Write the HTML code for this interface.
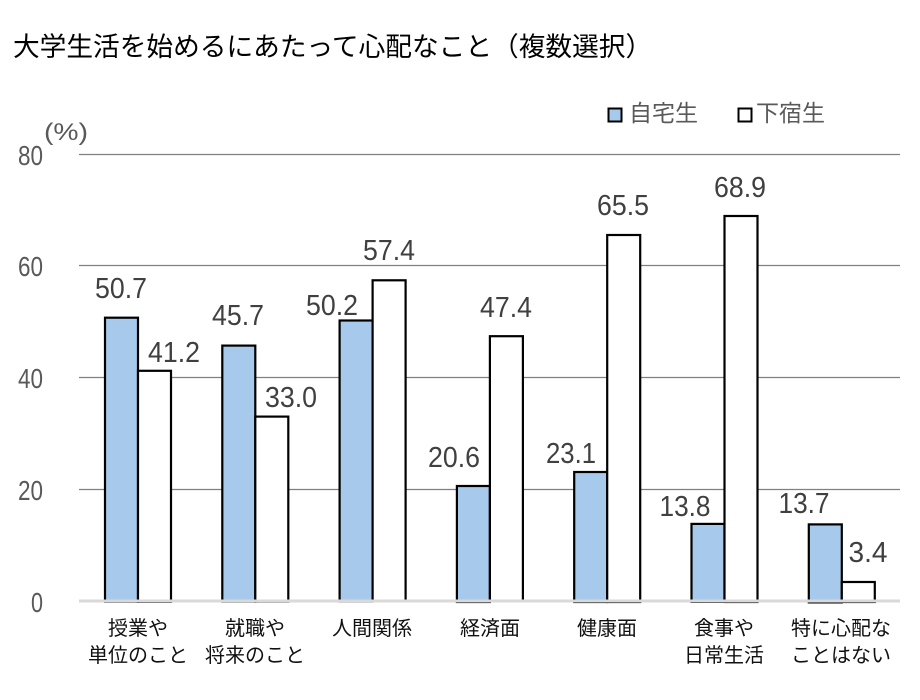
<!DOCTYPE html>
<html><head><meta charset="utf-8"><style>
html,body{margin:0;padding:0;background:#fff;}
svg{display:block;}
.t{font-family:"Liberation Sans","Noto Sans CJK JP",sans-serif;}
.cat{font-family:"Liberation Sans","Noto Sans CJK JP",sans-serif;font-size:20px;fill:#111;text-anchor:middle;}
.val{font-family:"Liberation Sans",sans-serif;font-size:29px;fill:#404040;text-anchor:middle;}
.ax{font-family:"Liberation Sans",sans-serif;font-size:28px;fill:#595959;text-anchor:end;}
</style></head><body>
<svg width="920" height="700" viewBox="0 0 920 700" xmlns="http://www.w3.org/2000/svg">
<rect width="920" height="700" fill="#fff"/>
<text class="t" x="13" y="56" font-size="26.7" fill="#000">大学生活を始めるにあたって心配なこと（複数選択）</text>

<!-- legend -->
<rect x="608.5" y="108.5" width="13" height="13" fill="#a7c9eb" stroke="#000" stroke-width="2"/>
<text class="t" x="629" y="121" font-size="23" fill="#595959">自宅生</text>
<rect x="738.5" y="108.5" width="13" height="13" fill="#fff" stroke="#000" stroke-width="2"/>
<text class="t" x="756" y="121" font-size="23" fill="#595959">下宿生</text>

<!-- y axis labels -->
<text class="t" x="44" y="140" font-size="24" fill="#595959" textLength="44" lengthAdjust="spacingAndGlyphs">(%)</text>
<text class="ax" x="43" y="165" textLength="25" lengthAdjust="spacingAndGlyphs">80</text>
<text class="ax" x="43" y="276" textLength="25" lengthAdjust="spacingAndGlyphs">60</text>
<text class="ax" x="43" y="388" textLength="25" lengthAdjust="spacingAndGlyphs">40</text>
<text class="ax" x="43" y="500" textLength="25" lengthAdjust="spacingAndGlyphs">20</text>
<text class="ax" x="43" y="612" textLength="12" lengthAdjust="spacingAndGlyphs">0</text>

<!-- gridlines -->
<g stroke="#808080" stroke-width="1.2">
<line x1="79" y1="154.5" x2="900" y2="154.5"/>
<line x1="79" y1="265.5" x2="900" y2="265.5"/>
<line x1="79" y1="377.5" x2="900" y2="377.5"/>
<line x1="79" y1="489.5" x2="900" y2="489.5"/>
</g>

<!-- bars -->
<g stroke="#000" stroke-width="2.2">
<rect x="105" y="317.7" width="33" height="284" fill="#a7c9eb"/>
<rect x="138" y="370.8" width="33" height="231" fill="#fff"/>
<rect x="222.3" y="345.6" width="33" height="256" fill="#a7c9eb"/>
<rect x="255.3" y="416.6" width="33" height="185" fill="#fff"/>
<rect x="339.6" y="320.5" width="33" height="281" fill="#a7c9eb"/>
<rect x="372.6" y="280.3" width="33" height="321" fill="#fff"/>
<rect x="456.9" y="486.0" width="33" height="116" fill="#a7c9eb"/>
<rect x="489.9" y="336.2" width="33" height="265" fill="#fff"/>
<rect x="574.2" y="472.0" width="33" height="130" fill="#a7c9eb"/>
<rect x="607.2" y="235.0" width="33" height="367" fill="#fff"/>
<rect x="691.5" y="523.9" width="33" height="78" fill="#a7c9eb"/>
<rect x="724.5" y="216.0" width="33" height="386" fill="#fff"/>
<rect x="808.8" y="524.4" width="33" height="78" fill="#a7c9eb"/>
<rect x="841.8" y="582.0" width="33" height="20" fill="#fff"/>
</g>

<!-- baseline -->
<line x1="79" y1="601" x2="900" y2="601" stroke="#d9d9d9" stroke-width="3"/>

<!-- value labels -->
<text class="val" x="121" y="298" textLength="52" lengthAdjust="spacingAndGlyphs">50.7</text>
<text class="val" x="174" y="362" textLength="52" lengthAdjust="spacingAndGlyphs">41.2</text>
<text class="val" x="238" y="325" textLength="52" lengthAdjust="spacingAndGlyphs">45.7</text>
<text class="val" x="291" y="407" textLength="52" lengthAdjust="spacingAndGlyphs">33.0</text>
<text class="val" x="332" y="315" textLength="52" lengthAdjust="spacingAndGlyphs">50.2</text>
<text class="val" x="389" y="260" textLength="52" lengthAdjust="spacingAndGlyphs">57.4</text>
<text class="val" x="454" y="467" textLength="52" lengthAdjust="spacingAndGlyphs">20.6</text>
<text class="val" x="506" y="317" textLength="52" lengthAdjust="spacingAndGlyphs">47.4</text>
<text class="val" x="571" y="463" textLength="50" lengthAdjust="spacingAndGlyphs">23.1</text>
<text class="val" x="623" y="215" textLength="52" lengthAdjust="spacingAndGlyphs">65.5</text>
<text class="val" x="685" y="516" textLength="51" lengthAdjust="spacingAndGlyphs">13.8</text>
<text class="val" x="740" y="197" textLength="52" lengthAdjust="spacingAndGlyphs">68.9</text>
<text class="val" x="804" y="513" textLength="51" lengthAdjust="spacingAndGlyphs">13.7</text>
<text class="val" x="868" y="562" textLength="39" lengthAdjust="spacingAndGlyphs">3.4</text>

<!-- category labels -->
<text class="cat" x="138" y="635">授業や</text>
<text class="cat" x="138" y="662">単位のこと</text>
<text class="cat" x="255" y="635">就職や</text>
<text class="cat" x="255" y="662">将来のこと</text>
<text class="cat" x="372" y="635">人間関係</text>
<text class="cat" x="490" y="635">経済面</text>
<text class="cat" x="607" y="635">健康面</text>
<text class="cat" x="724" y="635">食事や</text>
<text class="cat" x="724" y="662">日常生活</text>
<text class="cat" x="841" y="635">特に心配な</text>
<text class="cat" x="841" y="662">ことはない</text>
</svg>
</body></html>
